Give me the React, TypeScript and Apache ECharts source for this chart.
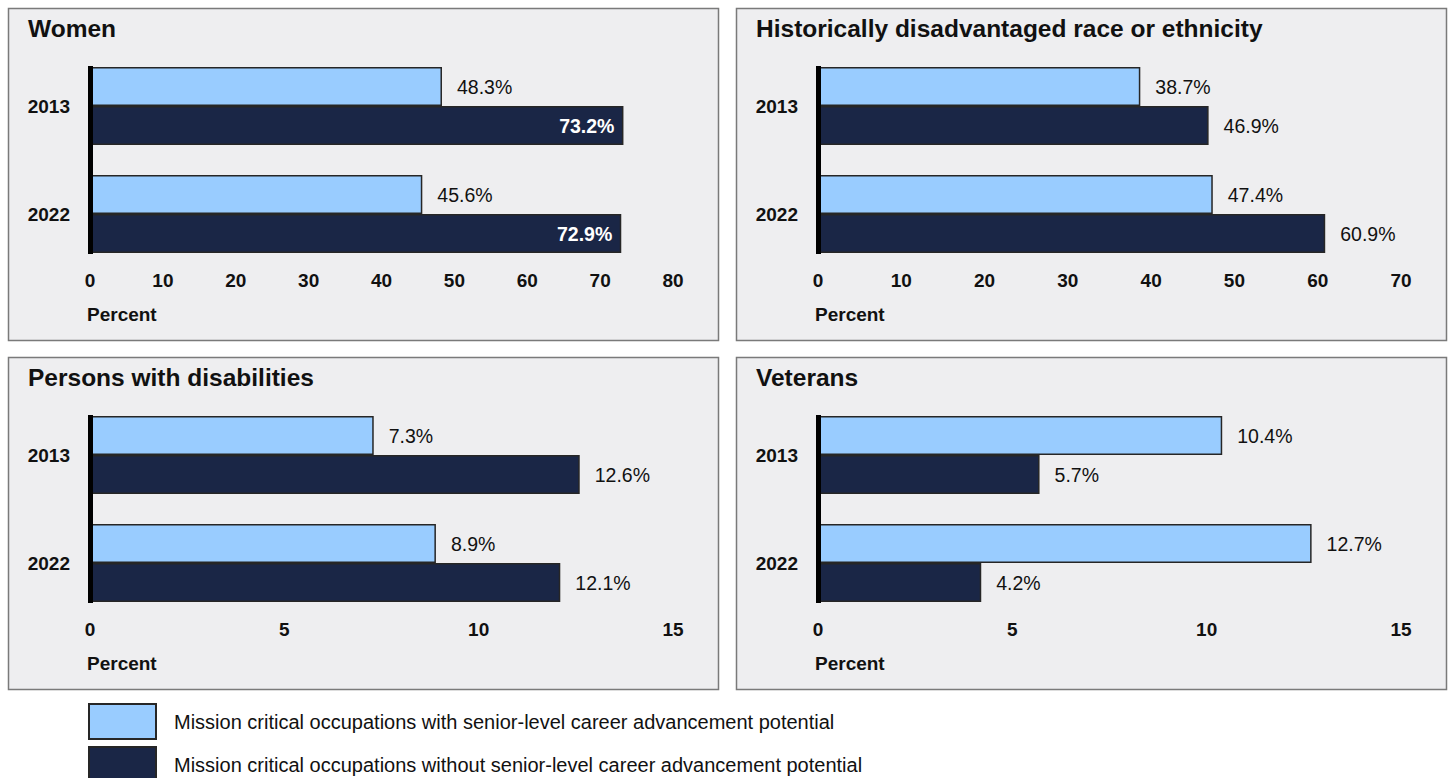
import React, { useEffect, useRef } from "react";
import * as echarts from "echarts";

const FONT = "'Liberation Sans', Arial, Helvetica, sans-serif";

const years = ["2013", "2022"];
const LEG_WITH = "Mission critical occupations with senior-level career advancement potential";
const LEG_WITHOUT = "Mission critical occupations without senior-level career advancement potential";

const panelTitles = [
  "Women",
  "Historically disadvantaged race or ethnicity",
  "Persons with disabilities",
  "Veterans",
];
const womenWith = [48.3, 45.6];
const womenWithout = [73.2, 72.9];
const raceWith = [38.7, 47.4];
const raceWithout = [46.9, 60.9];
const disWith = [7.3, 8.9];
const disWithout = [12.6, 12.1];
const vetWith = [10.4, 12.7];
const vetWithout = [5.7, 4.2];
const xMax = [80, 70, 15, 15];
const xInterval = [10, 10, 5, 5];
const axisName = "Percent";

const withData = [womenWith, raceWith, disWith, vetWith];
const withoutData = [womenWithout, raceWithout, disWithout, vetWithout];
// dark-bar labels drawn inside (white bold) for the first panel only
const insideDark = [true, false, false, false];

const LIGHT = "#99ccff";
const DARK = "#1a2646";
const PANEL_BG = "#eeeef0";
const PANEL_BORDER = "#7a7a7a";
const TEXT = "#111111";

export default function App() {
  const ref = useRef<HTMLDivElement>(null);
  useEffect(() => {
    const chart = echarts.init(ref.current!, null, { renderer: "svg" });

    const panels = [
      { x: 8, y: 8 },
      { x: 736, y: 8 },
      { x: 8, y: 357 },
      { x: 736, y: 357 },
    ];
    const PW = 710;
    const PH = 332;
    const GW = 583;
    const GH = 216;
    const BAR = 39;

    const grids: any[] = [];
    const xAxes: any[] = [];
    const yAxes: any[] = [];
    const series: any[] = [];
    const graphics: any[] = [];

    const fmt = (p: any) => Number(p.value).toFixed(1) + "%";

    panels.forEach((p, i) => {
      const gl = p.x + 82;
      const gt = p.y + 44;
      grids.push({ left: gl, top: gt, width: GW, height: GH, containLabel: false });
      xAxes.push({
        type: "value",
        gridIndex: i,
        min: 0,
        max: xMax[i],
        interval: xInterval[i],
        axisLine: { show: false },
        axisTick: { show: false },
        splitLine: { show: false },
        axisLabel: {
          fontFamily: FONT,
          fontSize: 19,
          fontWeight: "bold",
          color: TEXT,
          margin: 3,
        },
      });
      yAxes.push({
        type: "category",
        gridIndex: i,
        data: years,
        inverse: true,
        axisLine: { show: false },
        axisTick: { show: false },
        splitLine: { show: false },
        axisLabel: {
          fontFamily: FONT,
          fontSize: 19,
          fontWeight: "bold",
          color: TEXT,
          margin: 20,
        },
      });
      series.push({
        type: "bar",
        name: LEG_WITH,
        xAxisIndex: i,
        yAxisIndex: i,
        data: withData[i],
        barWidth: BAR,
        barGap: "0%",
        itemStyle: { color: LIGHT, borderColor: "#262626", borderWidth: 1.5 },
        label: {
          show: true,
          position: "right",
          distance: 15,
          formatter: fmt,
          fontFamily: FONT,
          fontSize: 19.5,
          color: TEXT,
        },
        z: 3,
      });
      series.push({
        type: "bar",
        name: LEG_WITHOUT,
        xAxisIndex: i,
        yAxisIndex: i,
        data: withoutData[i],
        barWidth: BAR,
        barGap: "0%",
        itemStyle: { color: DARK, borderColor: "#262626", borderWidth: 1.5 },
        label: insideDark[i]
          ? {
              show: true,
              position: "insideRight",
              distance: 9,
              formatter: fmt,
              fontFamily: FONT,
              fontSize: 19.5,
              fontWeight: "bold",
              color: "#ffffff",
            }
          : {
              show: true,
              position: "right",
              distance: 15,
              formatter: fmt,
              fontFamily: FONT,
              fontSize: 19.5,
              color: TEXT,
            },
        z: 3,
      });

      // panel box
      graphics.push({
        type: "rect",
        shape: { x: p.x + 0.5, y: p.y + 0.5, width: PW, height: PH },
        style: { fill: PANEL_BG, stroke: PANEL_BORDER, lineWidth: 1.5 },
        z: -10,
        silent: true,
      });
      // title
      graphics.push({
        type: "text",
        x: p.x + 20,
        y: p.y + 20,
        style: {
          text: panelTitles[i],
          fontFamily: FONT,
          fontSize: 24.5,
          fontWeight: "bold",
          fill: TEXT,
          verticalAlign: "middle",
        },
        z: 5,
      });
      // axis name
      graphics.push({
        type: "text",
        x: p.x + 79,
        y: p.y + 306,
        style: {
          text: axisName,
          fontFamily: FONT,
          fontSize: 19,
          fontWeight: "bold",
          fill: TEXT,
          verticalAlign: "middle",
        },
        z: 5,
      });
      // thick category axis line spanning the bars
      const pad = (GH / years.length - 2 * BAR) / 2;
      graphics.push({
        type: "rect",
        shape: { x: gl - 2, y: gt + pad - 1, width: 5, height: GH - 2 * pad + 2 },
        style: { fill: "#000000" },
        z: 10,
      });
    });

    const legendBase = {
      orient: "vertical",
      left: 83,
      itemWidth: 67,
      itemHeight: 35,
      icon: "rect",
      selectedMode: false,
      padding: 5,
      textStyle: {
        fontFamily: FONT,
        fontSize: 20,
        color: TEXT,
        padding: [0, 0, 0, 13],
      },
    };

    chart.setOption({
      animation: false,
      backgroundColor: "#ffffff",
      textStyle: { fontFamily: FONT },
      grid: grids,
      xAxis: xAxes,
      yAxis: yAxes,
      series,
      legend: [
        { ...legendBase, data: [LEG_WITH], top: 698 },
        { ...legendBase, data: [LEG_WITHOUT], top: 741 },
      ],
      graphic: graphics,
    });
    return () => chart.dispose();
  }, []);
  return (
    <div
      ref={ref}
      style={{ position: "absolute", left: 0, top: 0, width: 1448, height: 778 }}
    />
  );
}
